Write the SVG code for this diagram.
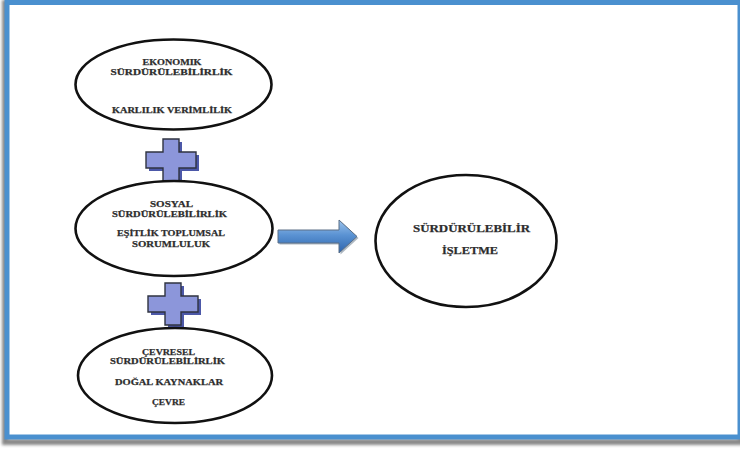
<svg xmlns="http://www.w3.org/2000/svg" width="740" height="450" viewBox="0 0 740 450">
  <defs>
    <linearGradient id="arrowFill" x1="0" y1="0" x2="0" y2="1">
      <stop offset="0" stop-color="#9cc3ec"/>
      <stop offset="0.45" stop-color="#5b93d3"/>
      <stop offset="1" stop-color="#2d64ad"/>
    </linearGradient>
    <filter id="soft" x="-5%" y="-5%" width="110%" height="110%">
      <feGaussianBlur stdDeviation="1.6"/>
    </filter>
    <g id="plusShape">
      <path d="M17 0 H33 V13 H50 V29 H33 V42 H17 V29 H0 V13 H17 Z"/>
    </g>
  </defs>
  <style>
    .oval { fill: #ffffff; stroke: #111111; stroke-width: 2.6; }
    .lbl { font-family: "Liberation Serif", "Times New Roman", serif; font-weight: bold; fill: #2a2a2a; stroke: #3a3a3a; stroke-width: 0.25; text-anchor: middle; }
    .s8 { font-size: 8.5px; }
    .s10 { font-size: 10.5px; }
    .plus-shadow { fill: #4c58a8; }
    .plus-face { fill: #8c96da; stroke: #2f3340; stroke-width: 1.4; }
  </style>

  <!-- page frame with drop shadow -->
  <rect x="0" y="0" width="740" height="450" fill="#ffffff"/>
  <rect x="5" y="3" width="736" height="439" fill="none" stroke="#6b6b6b" stroke-width="6" filter="url(#soft)" opacity="0.8"/>
  <rect x="7" y="2.5" width="733" height="434.5" fill="#ffffff" stroke="#4a90cf" stroke-width="5"/>

  <!-- connectors: plus signs and arrow -->
  <g id="connectors">
    <g transform="translate(146,139)">
      <use href="#plusShape" class="plus-shadow" transform="translate(3,3)"/>
      <use href="#plusShape" class="plus-face"/>
    </g>
    <g transform="translate(148,283)">
      <use href="#plusShape" class="plus-shadow" transform="translate(3,3)"/>
      <use href="#plusShape" class="plus-face"/>
    </g>
    <path d="M278 230 H339 V220 L357 236.5 L339 253 V243 H278 Z" fill="#7a8a9a" transform="translate(1.5,1.5)" opacity="0.6"/>
    <path d="M278 230 H339 V220 L357 236.5 L339 253 V243 H278 Z" fill="url(#arrowFill)" stroke="#5a6e86" stroke-width="1"/>
  </g>

  <g id="economic">
    <ellipse class="oval" cx="173.5" cy="84.5" rx="98" ry="45"/>
    <text class="lbl s8" x="172" y="65" textLength="59" lengthAdjust="spacingAndGlyphs">EKONOMIK</text>
    <text class="lbl s8" x="171.5" y="75" textLength="122" lengthAdjust="spacingAndGlyphs">SÜRDÜRÜLEBİLİRLİK</text>
    <text class="lbl s8" x="172" y="113" textLength="120" lengthAdjust="spacingAndGlyphs">KARLILIK VERİMLİLİK</text>
  </g>

  <g id="social">
    <ellipse class="oval" cx="174" cy="228.5" rx="98.5" ry="47.5"/>
    <text class="lbl s8" x="171.5" y="207" textLength="43" lengthAdjust="spacingAndGlyphs">SOSYAL</text>
    <text class="lbl s8" x="169.5" y="216.5" textLength="115" lengthAdjust="spacingAndGlyphs">SÜRDÜRÜLEBİLİRLİK</text>
    <text class="lbl s8" x="171" y="236" textLength="108" lengthAdjust="spacingAndGlyphs">EŞİTLİK TOPLUMSAL</text>
    <text class="lbl s8" x="171" y="247" textLength="78" lengthAdjust="spacingAndGlyphs">SORUMLULUK</text>
  </g>

  <g id="environmental">
    <ellipse class="oval" cx="175" cy="375.5" rx="97" ry="47.5"/>
    <text class="lbl s8" x="168.5" y="355" textLength="53" lengthAdjust="spacingAndGlyphs">ÇEVRESEL</text>
    <text class="lbl s8" x="167.5" y="363.5" textLength="115" lengthAdjust="spacingAndGlyphs">SÜRDÜRÜLEBİLİRLİK</text>
    <text class="lbl s8" x="169" y="385" textLength="108" lengthAdjust="spacingAndGlyphs">DOĞAL KAYNAKLAR</text>
    <text class="lbl s8" x="168.5" y="405" textLength="33" lengthAdjust="spacingAndGlyphs">ÇEVRE</text>
  </g>

  <g id="business">
    <ellipse class="oval" cx="466" cy="241" rx="90.5" ry="66"/>
    <text class="lbl s10" x="471.5" y="232" textLength="117" lengthAdjust="spacingAndGlyphs">SÜRDÜRÜLEBİLİR</text>
    <text class="lbl s10" x="470" y="254" textLength="56" lengthAdjust="spacingAndGlyphs">İŞLETME</text>
  </g>
</svg>
